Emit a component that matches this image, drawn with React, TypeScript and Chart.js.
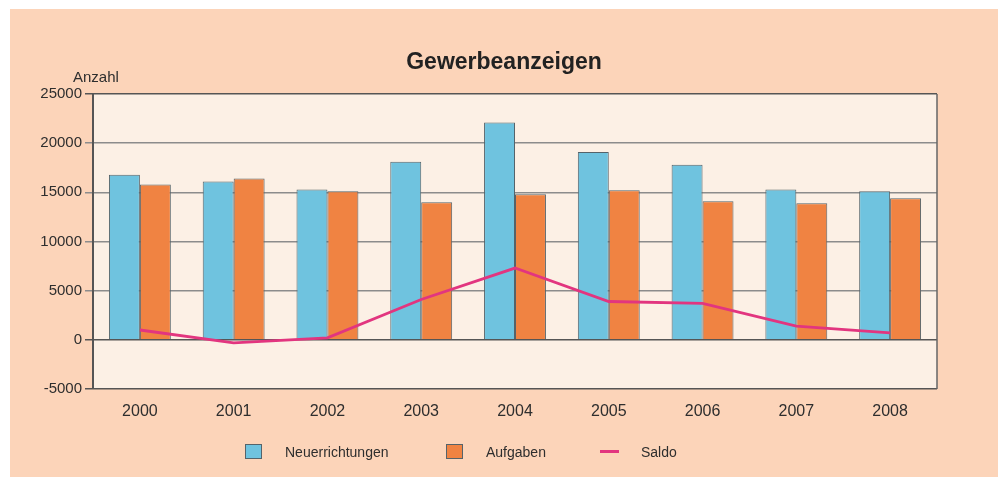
import React, { useEffect, useRef } from "react";
import { Chart, registerables } from "chart.js";

Chart.register(...registerables);

const title = "Gewerbeanzeigen";
const yAxisLabel = "Anzahl";
const years = ["2000", "2001", "2002", "2003", "2004", "2005", "2006", "2007", "2008"];
const neuerrichtungen = [16800, 16100, 15300, 18100, 22100, 19100, 17800, 15300, 15100];
const aufgaben = [15800, 16400, 15100, 14000, 14800, 15200, 14100, 13900, 14400];
const saldo = [1000, -300, 200, 4100, 7300, 3900, 3700, 1400, 700];
const seriesNames = ["Neuerrichtungen", "Aufgaben", "Saldo"];
const yMin = -5000;
const yMax = 25000;
const yStep = 5000;

const FONT = "'Liberation Sans', Arial, Helvetica, sans-serif";
const PANEL_BG = "#fcd4b9";
const PLOT_BG = "#fcf0e5";
const BLUE = "#6fc3df";
const ORANGE = "#f08342";
const PINK = "#e2357f";
const TEXT = "#2e2e2e";
const BAR_EDGE = "#55636a";

const decorPlugin = {
  id: "decor",
  beforeDraw(chart: any) {
    const { ctx, chartArea } = chart;
    ctx.save();
    ctx.fillStyle = PLOT_BG;
    ctx.fillRect(chartArea.left, chartArea.top, chartArea.right - chartArea.left, chartArea.bottom - chartArea.top);
    ctx.restore();
  },
  afterDraw(chart: any) {
    const { ctx, chartArea } = chart;
    ctx.save();
    // right frame
    ctx.strokeStyle = "#666666";
    ctx.lineWidth = 1.5;
    ctx.beginPath();
    ctx.moveTo(chartArea.right, chartArea.top);
    ctx.lineTo(chartArea.right, chartArea.bottom);
    ctx.stroke();

    // title
    ctx.fillStyle = "#222222";
    ctx.font = `bold 23px ${FONT}`;
    ctx.textAlign = "center";
    ctx.textBaseline = "alphabetic";
    ctx.fillText(title, 494, 59.5);

    // axis label
    ctx.fillStyle = TEXT;
    ctx.font = `15px ${FONT}`;
    ctx.textAlign = "left";
    ctx.fillText(yAxisLabel, 63, 72.5);

    // legend
    const items = [
      { x: 235, type: "box", fill: BLUE, stroke: BAR_EDGE, label: seriesNames[0] },
      { x: 436, type: "box", fill: ORANGE, stroke: BAR_EDGE, label: seriesNames[1] },
      { x: 590, type: "line", fill: PINK, stroke: PINK, label: seriesNames[2] },
    ];
    const cy = 442.5;
    ctx.font = `14px ${FONT}`;
    for (const it of items) {
      if (it.type === "box") {
        ctx.fillStyle = it.fill;
        ctx.fillRect(it.x, cy - 7.5, 17, 15);
        ctx.strokeStyle = it.stroke;
        ctx.lineWidth = 1;
        ctx.strokeRect(it.x + 0.5, cy - 7, 16, 14);
        ctx.fillStyle = TEXT;
        ctx.fillText(it.label, it.x + 40, cy + 5);
      } else {
        ctx.strokeStyle = it.stroke;
        ctx.lineWidth = 3;
        ctx.beginPath();
        ctx.moveTo(it.x, cy);
        ctx.lineTo(it.x + 19, cy);
        ctx.stroke();
        ctx.fillStyle = TEXT;
        ctx.fillText(it.label, it.x + 41, cy + 5);
      }
    }
    ctx.restore();
  },
};

export default function App() {
  const canvasRef = useRef<HTMLCanvasElement | null>(null);

  useEffect(() => {
    const canvas = canvasRef.current;
    if (!canvas) return;
    const chart = new Chart(canvas, {
      type: "bar",
      data: {
        labels: years,
        datasets: [
          {
            type: "line",
            label: seriesNames[2],
            data: saldo,
            borderColor: PINK,
            backgroundColor: PINK,
            borderWidth: 2.8,
            pointRadius: 0,
            tension: 0,
            order: 0,
          } as any,
          {
            type: "bar",
            label: seriesNames[0],
            data: neuerrichtungen,
            backgroundColor: BLUE,
            borderColor: BAR_EDGE,
            borderWidth: 1,
            categoryPercentage: 0.66,
            barPercentage: 1,
            order: 1,
          },
          {
            type: "bar",
            label: seriesNames[1],
            data: aufgaben,
            backgroundColor: ORANGE,
            borderColor: BAR_EDGE,
            borderWidth: 1,
            categoryPercentage: 0.66,
            barPercentage: 1,
            order: 1,
          },
        ],
      },
      options: {
        responsive: false,
        animation: false,
        devicePixelRatio: 1,
        layout: { padding: { left: 0, top: 85, right: 61, bottom: 0 } },
        plugins: {
          legend: { display: false },
          title: { display: false },
          tooltip: { enabled: false },
        },
        scales: {
          x: {
            offset: true,
            grid: { display: false, drawTicks: false },
            border: { display: false },
            ticks: {
              color: TEXT,
              font: { family: FONT, size: 16 },
              padding: 13,
              maxRotation: 0,
            },
            afterFit(scale: any) {
              scale.height = 88;
            },
          },
          y: {
            min: yMin,
            max: yMax,
            ticks: {
              stepSize: yStep,
              color: TEXT,
              font: { family: FONT, size: 15 },
              padding: 3,
              callback: (v: any) => String(v),
            },
            grid: {
              color: (c: any) =>
                c.tick && (c.tick.value === 0 || c.tick.value === yMax || c.tick.value === yMin)
                  ? "#555555"
                  : "#8c8c8c",
              lineWidth: 1.5,
              tickLength: 8,
              drawTicks: true,
            },
            border: { display: true, color: "#555555", width: 2 },
            afterFit(scale: any) {
              scale.width = 83;
            },
          },
        },
      },
      plugins: [decorPlugin],
    });
    return () => chart.destroy();
  }, []);

  return (
    <div style={{ position: "absolute", left: 0, top: 0, width: 998, height: 477, background: "#ffffff", overflow: "hidden" }}>
      <div style={{ position: "absolute", left: 10, top: 9, width: 988, height: 468, background: PANEL_BG }}>
        <canvas ref={canvasRef} width={988} height={468} style={{ display: "block" }} />
      </div>
    </div>
  );
}
